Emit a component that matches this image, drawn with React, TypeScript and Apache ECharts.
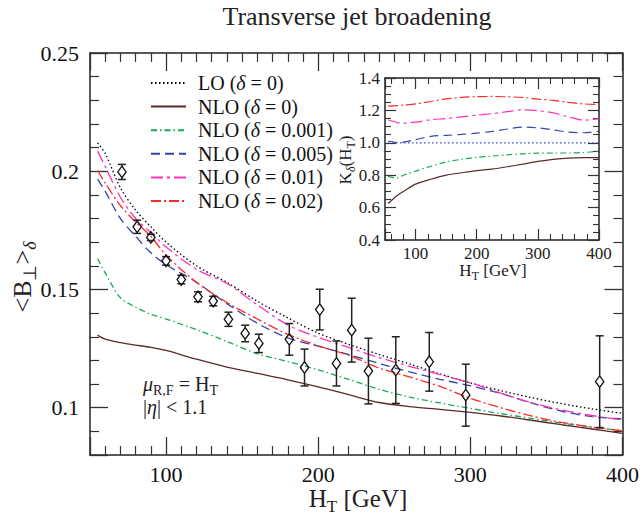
import React, { useEffect, useRef } from 'react';
import * as echarts from 'echarts';

// ---------- main panel data ----------
const HT = [55, 60, 70, 80, 90, 100, 120, 140, 160, 180, 200, 220, 240, 260, 280, 300, 320, 340, 360, 380, 400];
const LO_0 = [0.212, 0.2075, 0.193, 0.1835, 0.1765, 0.17, 0.16, 0.153, 0.145, 0.138, 0.1315, 0.1268, 0.1225, 0.1185, 0.1143, 0.1105, 0.1072, 0.1043, 0.1017, 0.0995, 0.0976];
const NLO_0 = [0.1307, 0.129, 0.1275, 0.1265, 0.1255, 0.1242, 0.1205, 0.1172, 0.1145, 0.1118, 0.1088, 0.1055, 0.1022, 0.1005, 0.0993, 0.098, 0.0965, 0.0947, 0.0928, 0.091, 0.0891];
const NLO_001 = [0.163, 0.157, 0.1465, 0.1425, 0.1395, 0.1375, 0.133, 0.128, 0.1228, 0.1195, 0.116, 0.112, 0.1078, 0.1045, 0.102, 0.0997, 0.0975, 0.0955, 0.0935, 0.0918, 0.0903];
const NLO_005 = [0.1967, 0.1915, 0.18, 0.1725, 0.1655, 0.1605, 0.153, 0.144, 0.1357, 0.1295, 0.126, 0.1225, 0.1187, 0.1152, 0.112, 0.1093, 0.106, 0.102, 0.0985, 0.0962, 0.0953];
const NLO_01 = [0.2085, 0.202, 0.189, 0.18, 0.174, 0.168, 0.1585, 0.1525, 0.1435, 0.135, 0.1298, 0.1255, 0.1212, 0.1175, 0.114, 0.1105, 0.1062, 0.1022, 0.099, 0.0967, 0.0948];
const NLO_02 = [0.2003, 0.195, 0.1855, 0.1785, 0.1725, 0.1645, 0.153, 0.1445, 0.1375, 0.131, 0.1262, 0.1222, 0.1168, 0.113, 0.109, 0.104, 0.1, 0.0965, 0.0938, 0.0918, 0.0902];

// measured points
const DATA_HT = [71, 81, 90, 100, 110, 121, 131, 141, 152, 161, 181, 191, 201, 212, 222, 233, 251, 273, 297, 385];
const DATA_B = [0.1997, 0.1765, 0.172, 0.1621, 0.1542, 0.1469, 0.1451, 0.1374, 0.1314, 0.1272, 0.1289, 0.117, 0.1415, 0.1187, 0.1328, 0.1155, 0.1159, 0.1194, 0.1053, 0.111];
const DATA_ERR = [0.0032, 0.0028, 0.0013, 0.0018, 0.0018, 0.0021, 0.002, 0.003, 0.0035, 0.0039, 0.0067, 0.0078, 0.0086, 0.0095, 0.0135, 0.0139, 0.0141, 0.0124, 0.0131, 0.0194];

// ---------- inset (K factor) data ----------
const K_HT = [55, 70, 80, 100, 125, 150, 175, 200, 225, 250, 275, 300, 325, 350, 375, 400];
const K_LO = [1, 1, 1, 1, 1, 1, 1, 1, 1, 1, 1, 1, 1, 1, 1, 1];
const K_0 = [0.625, 0.675, 0.7, 0.745, 0.775, 0.8, 0.815, 0.828, 0.838, 0.852, 0.868, 0.885, 0.898, 0.906, 0.908, 0.908];
const K_001 = [0.793, 0.783, 0.8, 0.825, 0.855, 0.882, 0.898, 0.91, 0.918, 0.926, 0.932, 0.936, 0.937, 0.937, 0.94, 0.948];
const K_005 = [1.011, 1.003, 1.004, 1.02, 1.04, 1.046, 1.052, 1.06, 1.07, 1.085, 1.097, 1.092, 1.08, 1.066, 1.062, 1.072];
const K_01 = [1.142, 1.125, 1.121, 1.128, 1.142, 1.15, 1.16, 1.17, 1.18, 1.192, 1.203, 1.198, 1.185, 1.16, 1.14, 1.148];
const K_02 = [1.226, 1.23, 1.233, 1.24, 1.255, 1.271, 1.28, 1.285, 1.286, 1.284, 1.28, 1.27, 1.262, 1.25, 1.24, 1.236];

const NAMES = ['LO (δ = 0)', 'NLO (δ = 0)', 'NLO (δ = 0.001)', 'NLO (δ = 0.005)', 'NLO (δ = 0.01)', 'NLO (δ = 0.02)'];

const SERIF = "'Liberation Serif', 'Times New Roman', Times, serif";

const STYLES = [
  { color: '#000000', type: [1.5, 2.5] as any },
  { color: '#5a2a2a', type: 'solid' as any },
  { color: '#1aaa55', type: [6, 3, 1.5, 3] as any },
  { color: '#3344aa', type: [9, 5] as any },
  { color: '#ff33bb', type: [12, 4, 3, 4] as any },
  { color: '#ff2a2a', type: [10, 3, 2, 3] as any },
];

const zip = (xs: number[], ys: number[]) => xs.map((x, i) => [x, ys[i]]);

export default function App() {
  const ref = useRef<HTMLDivElement>(null);
  useEffect(() => {
    document.body.style.margin = '0';
    if (!ref.current) return;
    const chart = echarts.init(ref.current, undefined, { renderer: 'svg' });

    const mainCurves = [LO_0, NLO_0, NLO_001, NLO_005, NLO_01, NLO_02];
    const insetCurves = [K_LO, K_0, K_001, K_005, K_01, K_02];

    const axisLine = { show: true, lineStyle: { color: '#222', width: 1.5 } };
    const mainTick = { show: true, inside: true, length: 18, lineStyle: { color: '#333', width: 1.3 } };
    const mainMinor = { show: true, length: 9, lineStyle: { color: '#333', width: 1.2 } };
    const insetTick = { show: true, inside: true, length: 11, lineStyle: { color: '#333', width: 1.2 } };
    const insetMinor = { show: true, length: 6, lineStyle: { color: '#333', width: 1.1 } };

    const mainX = {
      type: 'value', gridIndex: 0, min: 50, max: 400, splitNumber: 4,
      axisLine, axisTick: mainTick, minorTick: { ...mainMinor, splitNumber: 10 }, splitLine: { show: false },
    };
    const mainY = {
      type: 'value', gridIndex: 0, min: 0.08, max: 0.25, splitNumber: 4,
      axisLine, axisTick: mainTick, minorTick: { ...mainMinor, splitNumber: 5 }, splitLine: { show: false },
    };
    const insetX = {
      type: 'value', gridIndex: 1, min: 50, max: 400, splitNumber: 4,
      axisLine, axisTick: insetTick, minorTick: { ...insetMinor, splitNumber: 5 }, splitLine: { show: false },
    };
    const insetY = {
      type: 'value', gridIndex: 1, min: 0.4, max: 1.4, interval: 0.2,
      axisLine, axisTick: insetTick, minorTick: { ...insetMinor, splitNumber: 4 }, splitLine: { show: false },
    };

    const legendRich = {
      n: { fontSize: 20, fontFamily: SERIF, color: '#111', lineHeight: 20 },
      i: { fontSize: 20, fontFamily: SERIF, fontStyle: 'italic', color: '#111', lineHeight: 20 },
    };

    // subscript token: small fixed height, bottom aligned in its line
    const sub = (size: number, h: number, italic = false) => ({
      fontSize: size, fontFamily: SERIF, fill: '#222', height: h, verticalAlign: 'bottom',
      ...(italic ? { fontStyle: 'italic' } : {}),
    });

    const option: any = {
      animation: false,
      textStyle: { fontFamily: SERIF },
      grid: [
        { left: 90, top: 53, right: 16, bottom: 62 },
        { left: 385, top: 78, width: 214, height: 162, show: true, backgroundColor: '#fff', borderWidth: 0 },
      ],
      xAxis: [
        { ...mainX, position: 'bottom', axisLabel: { show: true, showMinLabel: false, fontSize: 22, lineHeight: 16, color: '#111', margin: 11, fontFamily: SERIF } },
        { ...mainX, position: 'top', axisLabel: { show: false } },
        { ...insetX, position: 'bottom', axisLabel: { show: true, showMinLabel: false, fontSize: 17, color: '#222', margin: 5, fontFamily: SERIF } },
        { ...insetX, position: 'top', axisLabel: { show: false } },
      ],
      yAxis: [
        { ...mainY, position: 'left', axisLabel: { show: true, showMinLabel: false, fontSize: 22, color: '#111', margin: 11, fontFamily: SERIF } },
        { ...mainY, position: 'right', axisLabel: { show: false } },
        { ...insetY, position: 'left', axisLabel: { show: true, fontSize: 17, color: '#222', margin: 5, fontFamily: SERIF, formatter: (v: number) => v.toFixed(1) } },
        { ...insetY, position: 'right', axisLabel: { show: false } },
      ],
      legend: {
        data: NAMES,
        orient: 'vertical',
        left: 150,
        top: 73,
        padding: 0,
        itemWidth: 35,
        itemHeight: 14,
        itemGap: 3.6,
        selectedMode: false,
        itemStyle: { opacity: 0, borderWidth: 0 },
        formatter: (name: string) => {
          const k = name.indexOf('δ');
          return `{n|${name.slice(0, k)}}{i|δ}{n|${name.slice(k + 1)}}`;
        },
        textStyle: { fontSize: 20, fontFamily: SERIF, color: '#111', padding: [0, 0, 0, 7], rich: legendRich },
      },
      graphic: [
        {
          type: 'text', x: 357, y: 16,
          style: { text: 'Transverse jet broadening', fontSize: 26, fontFamily: SERIF, fill: '#222', align: 'center', verticalAlign: 'middle' },
        },
        {
          type: 'text', x: 358, y: 498.5,
          style: {
            text: '{n|H}{s|T}{n| [GeV]}', align: 'center', verticalAlign: 'middle',
            rich: {
              n: { fontSize: 25, fontFamily: SERIF, fill: '#222', lineHeight: 20 },
              s: sub(17, 4),
            },
          },
        },
        {
          type: 'text', x: 22, y: 277, rotation: Math.PI / 2,
          style: {
            text: '{n|<B}{s|⊥}{n|>}{si|δ}', align: 'center', verticalAlign: 'middle',
            rich: {
              n: { fontSize: 26, fontFamily: SERIF, fill: '#222', lineHeight: 26 },
              s: sub(18, 10),
              si: sub(18, 10, true),
            },
          },
        },
        {
          type: 'text', x: 493, y: 270,
          style: {
            text: '{n|H}{s|T}{n| [GeV]}', align: 'center', verticalAlign: 'middle',
            rich: {
              n: { fontSize: 17, fontFamily: SERIF, fill: '#222', lineHeight: 17 },
              s: sub(12, 6),
            },
          },
        },
        {
          type: 'text', x: 345, y: 160, rotation: Math.PI / 2,
          style: {
            text: '{n|K}{si|δ}{n|(H}{s|T}{n|)}', align: 'center', verticalAlign: 'middle',
            rich: {
              n: { fontSize: 17, fontFamily: SERIF, fill: '#222', lineHeight: 17 },
              s: sub(12, 6),
              si: sub(12, 6, true),
            },
          },
        },
        {
          type: 'text', x: 143, y: 384,
          style: {
            text: '{i|μ}{s|R,F}{n| = H}{s|T}', align: 'left', verticalAlign: 'middle',
            rich: {
              n: { fontSize: 20, fontFamily: SERIF, fill: '#222', lineHeight: 20 },
              i: { fontSize: 20, fontFamily: SERIF, fontStyle: 'italic', fill: '#222', lineHeight: 20 },
              s: sub(14, 8),
            },
          },
        },
        {
          type: 'text', x: 143, y: 407,
          style: {
            text: '{n||}{i|η}{n|| < 1.1}', align: 'left', verticalAlign: 'middle',
            rich: {
              n: { fontSize: 20, fontFamily: SERIF, fill: '#222', lineHeight: 20 },
              i: { fontSize: 20, fontFamily: SERIF, fontStyle: 'italic', fill: '#222', lineHeight: 20 },
            },
          },
        },
      ],
      series: [
        ...mainCurves.map((vals, i) => ({
          type: 'line', name: NAMES[i], xAxisIndex: 0, yAxisIndex: 0,
          data: zip(HT, vals), symbol: 'none', showSymbol: false, smooth: 0.3, z: 3,
          lineStyle: { color: STYLES[i].color, type: STYLES[i].type, width: 1.3 },
          itemStyle: { color: STYLES[i].color },
        })),
        ...insetCurves.map((vals, i) => ({
          type: 'line', name: 'K ' + NAMES[i], xAxisIndex: 2, yAxisIndex: 2,
          data: zip(K_HT, vals), symbol: 'none', showSymbol: false, smooth: 0.3, z: 3,
          lineStyle: { color: i === 0 ? '#3344dd' : STYLES[i].color, type: STYLES[i].type, width: 1.2 },
        })),
        {
          type: 'custom', name: 'data', xAxisIndex: 0, yAxisIndex: 0, z: 5,
          data: DATA_HT.map((h, i) => [h, DATA_B[i], DATA_ERR[i]]),
          encode: { x: 0, y: 1 },
          renderItem: (_params: any, api: any) => {
            const x = api.value(0), y = api.value(1), e = api.value(2);
            const c = api.coord([x, y]);
            const t = api.coord([x, y + e]);
            const b = api.coord([x, y - e]);
            const hw = 4.2, hh = 5.8, cap = 4;
            const st = { stroke: '#222', lineWidth: 1.5 };
            const ch: any[] = [];
            if (c[1] - hh > t[1]) ch.push({ type: 'line', shape: { x1: c[0], y1: t[1], x2: c[0], y2: c[1] - hh }, style: st });
            if (c[1] + hh < b[1]) ch.push({ type: 'line', shape: { x1: c[0], y1: c[1] + hh, x2: c[0], y2: b[1] }, style: st });
            ch.push({ type: 'line', shape: { x1: c[0] - cap, y1: t[1], x2: c[0] + cap, y2: t[1] }, style: st });
            ch.push({ type: 'line', shape: { x1: c[0] - cap, y1: b[1], x2: c[0] + cap, y2: b[1] }, style: st });
            ch.push({
              type: 'polygon',
              shape: { points: [[c[0], c[1] - hh], [c[0] + hw, c[1]], [c[0], c[1] + hh], [c[0] - hw, c[1]]] },
              style: { fill: 'none', stroke: '#111', lineWidth: 1.3 },
            });
            return { type: 'group', children: ch };
          },
        },
      ],
    };
    chart.setOption(option);
    return () => chart.dispose();
  }, []);
  return <div ref={ref} style={{ width: 642, height: 517 }} />;
}
